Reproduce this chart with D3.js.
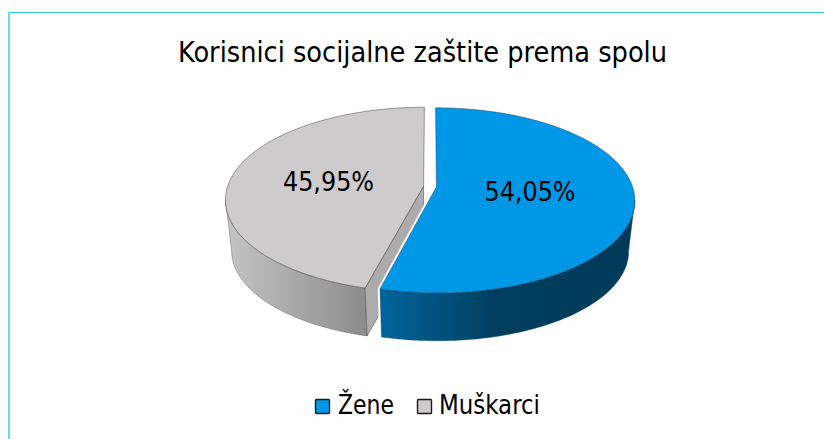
<!DOCTYPE html>
<html>
<head>
<meta charset="utf-8">
<script src="https://cdn.jsdelivr.net/npm/d3@7"></script>
<style>
html,body{margin:0;padding:0;background:#fff;overflow:hidden}
svg{display:block}
text{font-family:"DejaVu Sans",sans-serif;font-stretch:condensed;fill:#000}
</style>
</head>
<body>
<svg id="chart" width="824" height="439"></svg>
<script>
const titleText = "Korisnici socijalne zaštite prema spolu";
const categories = ["Žene", "Muškarci"];
const values = [54.05, 45.95];
const faceColors = ["#0098e6", "#cdcbcc"];
const wallStops = [
  [["0%", "#00659c"], ["45%", "#003f60"], ["100%", "#003a58"]],
  [["0%", "#c4c4c4"], ["100%", "#8c8c8c"]]
];
const labelPos = [[530, 201], [328.5, 191]];

const svg = d3.select("#chart");
const W = 824, H = 439;

// frame
svg.append("line").attr("x1", 8).attr("x2", W).attr("y1", 12.5).attr("y2", 12.5)
  .attr("stroke", "#2cc6f2").attr("stroke-width", 1);
svg.append("line").attr("x1", 9).attr("x2", 9).attr("y1", 12).attr("y2", H)
  .attr("stroke", "#6cd6f8").attr("stroke-width", 2);

// title
svg.append("text").attr("x", 422.5).attr("y", 62).attr("text-anchor", "middle")
  .attr("font-size", 28).attr("textLength", 489).attr("lengthAdjust", "spacingAndGlyphs").text(titleText);

// perspective projection of the tilted pie disc
const cx = 430, cyTop = 186.5, cyBot = 237.5;
const A = 196, B = 90.5, k = 0.146, shrink = 0.97, explode = 0.033;
function project(a, b, bottom) {
  const w = 1 - k * b, s = bottom ? shrink : 1;
  return [cx + s * A * a / w, (bottom ? cyBot : cyTop) + s * B * b / w];
}
const pie = d3.pie().sort(null).value(d => d)(values);
const arcs = pie.map((p, i) => {
  const mid = (p.startAngle + p.endAngle) / 2;
  const ox = explode * Math.sin(mid), oy = -explode * Math.cos(mid);
  const n = Math.max(2, Math.round((p.endAngle - p.startAngle) * 60));
  const th = d3.range(n + 1).map(j => p.startAngle + (p.endAngle - p.startAngle) * j / n);
  const pt = (t, bottom) => project(ox + Math.sin(t), oy - Math.cos(t), bottom);
  return {i, th, pt, apexT: project(ox, oy, false), apexB: project(ox, oy, true)};
});
const line = d3.line();

const defs = svg.append("defs");
arcs.forEach(a => {
  const xs = a.th.map(t => a.pt(t, false)[0]);
  const g = defs.append("linearGradient").attr("id", "wall" + a.i)
    .attr("gradientUnits", "userSpaceOnUse")
    .attr("x1", a.i === 0 ? a.pt(a.th[a.th.length - 1], false)[0] : d3.min(xs)).attr("x2", a.i === 0 ? d3.max(xs) : a.pt(a.th[0], false)[0])
    .attr("y1", 0).attr("y2", 0);
  wallStops[a.i].forEach(s => g.append("stop").attr("offset", s[0]).attr("stop-color", s[1]));
});

function wallPath(a) {
  // visible outer wall runs between the slice's silhouette extreme and its front cut
  const ext = a.i === 0 ? d3.greatest(a.th, t => a.pt(t, false)[0]) : d3.least(a.th, t => a.pt(t, false)[0]);
  const vis = a.i === 0 ? a.th.filter(t => t >= ext) : a.th.filter(t => t <= ext);
  return line(vis.map(t => a.pt(t, false)).concat(vis.slice().reverse().map(t => a.pt(t, true)))) + "Z";
}
function topPath(a) {
  return line([a.apexT].concat(a.th.map(t => a.pt(t, false)))) + "Z";
}

const grey = arcs[1], blue = arcs[0];
const rim = "#3a3a3a";

// grey slice: outer wall, cut wall, top
svg.append("path").attr("d", wallPath(grey)).attr("fill", "url(#wall1)")
  .attr("stroke", "#555").attr("stroke-width", 0.4);
svg.append("path")
  .attr("d", line([grey.apexT, grey.pt(grey.th[0], false), grey.pt(grey.th[0], true), grey.apexB]) + "Z")
  .attr("fill", "#acaaaa").attr("stroke", "#555").attr("stroke-width", 0.6);
svg.append("path").attr("d", topPath(grey)).attr("fill", faceColors[1])
  .attr("stroke", rim).attr("stroke-width", 0.6).attr("stroke-opacity", 0.8);

// white gap around the blue slice, then blue wall and top
const blueHalo = topPath(blue) + wallPath(blue);
svg.append("path").attr("d", blueHalo).attr("fill", "#fff").attr("stroke", "#fff")
  .attr("stroke-width", 4.5).attr("stroke-linejoin", "round");
svg.append("path").attr("d", wallPath(blue)).attr("fill", "url(#wall0)")
  .attr("stroke", "#0a4a70").attr("stroke-width", 0.4);
svg.append("path").attr("d", topPath(blue)).attr("fill", faceColors[0])
  .attr("stroke", "#17384d").attr("stroke-width", 0.6).attr("stroke-opacity", 0.8);

// value labels
const fmt = v => v.toFixed(2).replace(".", ",") + "%";
svg.selectAll("text.val").data(values).join("text").attr("class", "val")
  .attr("x", (d, i) => labelPos[i][0]).attr("y", (d, i) => labelPos[i][1])
  .attr("text-anchor", "middle").attr("font-size", 26)
  .attr("textLength", 91).attr("lengthAdjust", "spacingAndGlyphs").text(fmt);

// legend
const legendX = [315, 417], legendTextX = [338, 439], legendLen = [56, 101];
categories.forEach((c, i) => {
  svg.append("rect").attr("x", legendX[i] + 0.5).attr("y", 399.5).attr("width", 14).attr("height", 14)
    .attr("rx", 1).attr("fill", faceColors[i]).attr("stroke", "#1a1a1a").attr("stroke-width", 1.4);
  svg.append("text").attr("x", legendTextX[i]).attr("y", 414).attr("font-size", 26)
    .attr("textLength", legendLen[i]).attr("lengthAdjust", "spacingAndGlyphs").text(c);
});
</script>
</body>
</html>
